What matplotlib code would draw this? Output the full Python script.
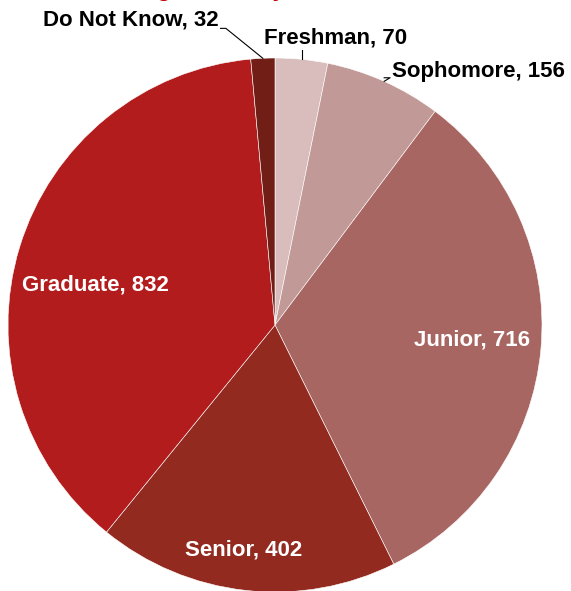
import numpy as np
import matplotlib.pyplot as plt

plt.rcParams['font.family'] = ['Liberation Sans', 'DejaVu Sans']

# class standing counts, drawn clockwise from 12 o'clock
categories = ['Freshman', 'Sophomore', 'Junior', 'Senior', 'Graduate', 'Do Not Know']
counts = [70, 156, 716, 402, 832, 32]
colors = ['#D9BDBD', '#C19A97', '#A86662', '#922A1F', '#B21C1D', '#701E16']

# inside labels: (radius fraction, angle tweak in degrees); outside: text anchor + leader
inside = {'Junior': (0.74, 1.0), 'Senior': (0.85, -1.5), 'Graduate': (0.69, 4.5)}
outside = {
    'Do Not Know': dict(xy=(-0.213, 1.142), ha='right', elbow=[(-0.204, 1.111), (-0.184, 1.111)]),
    'Freshman': dict(xy=(0.225, 1.075), ha='center', elbow=[(None, 1.03)]),
    'Sophomore': dict(xy=(0.438, 0.948), ha='left', elbow=[(None, 0.926), (0.431, 0.926)]),
}

W, H = 571, 591
cx, cy, R = 275, 325, 267
fig = plt.figure(figsize=(W / 100, H / 100), dpi=100)
ax = fig.add_axes([(cx - R) / W, (H - cy - R) / H, 2 * R / W, 2 * R / H])

wedges, _ = ax.pie(counts, colors=colors, startangle=90, counterclock=False,
                   radius=1.0, wedgeprops=dict(edgecolor='white', linewidth=0.4))
ax.set_xlim(-1, 1)
ax.set_ylim(-1, 1)
ax.set_aspect('equal')
ax.axis('off')

for w, name, n in zip(wedges, categories, counts):
    mid = np.deg2rad((w.theta1 + w.theta2) / 2)
    label = f'{name}, {n}'
    if name in inside:
        r, tweak = inside[name]
        a = mid + np.deg2rad(tweak)
        ax.text(r * np.cos(a), r * np.sin(a), label, color='white', fontsize=16,
                fontweight='bold', ha='center', va='center')
    else:
        o = outside[name]
        ex, ey = np.cos(mid), np.sin(mid)
        pts = [(ex, ey)]
        for px, py in o['elbow'][::-1]:
            pts.append((ex if px is None else px, py))
        xs, ys = zip(*pts)
        ax.plot(xs, ys, color='black', linewidth=0.8, clip_on=False)
        ax.text(o['xy'][0], o['xy'][1], label, color='black', fontsize=16,
                fontweight='bold', ha=o['ha'], va='center', clip_on=False)

# chart title sits above the top edge of the image
fig.text(0.0, 1.0065, 'Class Standing of Survey Takers', color='#C00000',
         fontsize=17, fontweight='bold', ha='left', va='baseline')

fig.savefig('out.png', dpi=100)
